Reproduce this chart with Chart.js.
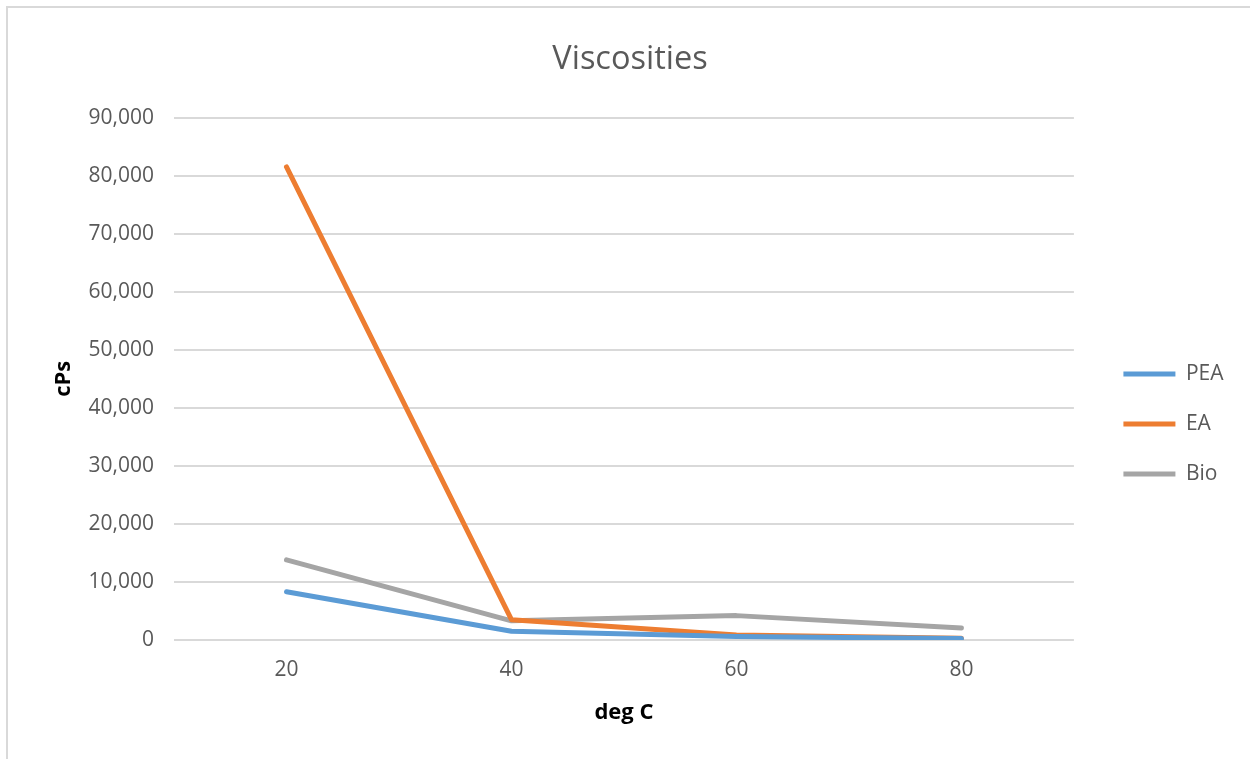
<!DOCTYPE html>
<html>
<head>
<meta charset="utf-8">
<script src="https://cdn.jsdelivr.net/npm/chart.js@4/dist/chart.umd.min.js"></script>
<style>
  html, body { margin: 0; padding: 0; background: #ffffff; overflow: hidden; }
  #frame { position: absolute; left: 6px; top: 6px; width: 1400px; height: 900px; border: 2px solid #d9d9d9; box-sizing: border-box; }
  #c { position: absolute; left: 0; top: 0; }
</style>
</head>
<body>
<div id="frame"></div>
<canvas id="c" width="1250" height="759"></canvas>
<script>
const categories = ['20', '40', '60', '80'];
const seriesNames = ['PEA', 'EA', 'Bio'];
const peaValues = [8300, 1500, 600, 250];
const eaValues = [81500, 3500, 850, 300];
const bioValues = [13800, 3300, 4200, 2050];
const seriesColors = ['#5B9BD5', '#ED7D31', '#A5A5A5'];
const yTickMin = 0, yTickMax = 90000, yTickStep = 10000;
const chartTitle = 'Viscosities';
const xTitle = 'deg C';
const yTitle = 'cPs';

const FONT = "'Open Sans', sans-serif";
const seriesValues = [peaValues, eaValues, bioValues];

const datasets = seriesNames.map((name, i) => ({
  label: name,
  data: seriesValues[i],
  borderColor: seriesColors[i],
  backgroundColor: seriesColors[i],
  borderWidth: 5,
  borderCapStyle: 'round',
  borderJoinStyle: 'round',
  pointRadius: 0,
  pointHoverRadius: 0,
  tension: 0,
  fill: false
}));

new Chart(document.getElementById('c'), {
  type: 'line',
  data: { labels: categories, datasets },
  options: {
    responsive: false,
    animation: false,
    devicePixelRatio: 1,
    layout: { padding: { top: 10, left: 26.5, right: 16.5, bottom: 10 } },
    plugins: {
      title: {
        display: true,
        text: chartTitle,
        color: '#595959',
        font: { family: FONT, size: 32.5, weight: 'normal', lineHeight: 1.2 },
        padding: { top: 30.5, bottom: 38.1 }
      },
      legend: {
        position: 'right',
        align: 'start',
        title: {
          display: true,
          text: ' ',
          font: { family: FONT, size: 12, lineHeight: 1.2 },
          padding: { top: 310, bottom: 0 }
        },
        labels: {
          usePointStyle: true,
          pointStyle: 'line',
          pointStyleWidth: 52,
          boxWidth: 52,
          padding: 29,
          color: '#595959',
          font: { family: FONT, size: 21 }
        }
      },
      tooltip: { enabled: false }
    },
    scales: {
      x: {
        offset: true,
        grid: { display: false, drawTicks: false },
        border: { display: false },
        ticks: { color: '#595959', padding: 17, font: { family: FONT, size: 21 } },
        title: {
          display: true, text: xTitle, color: '#000000',
          font: { family: FONT, size: 22, weight: 'bold', lineHeight: 1.2 },
          padding: { top: 0, bottom: 23 }
        },
        afterFit(s) { s.height = 109; }
      },
      y: {
        min: yTickMin, max: yTickMax,
        grid: { color: '#d9d9d9', lineWidth: 2, drawTicks: false },
        border: { display: false },
        ticks: {
          stepSize: yTickStep, color: '#595959', padding: 20,
          font: { family: FONT, size: 21 },
          callback: v => Number(v).toLocaleString('en-US')
        },
        title: {
          display: true, text: yTitle, color: '#000000',
          font: { family: FONT, size: 22, weight: 'bold', lineHeight: 1.2 },
          padding: { top: 24.5, bottom: 0 }
        },
        afterFit(s) { s.width = 147.5; }
      },
      spacer: {
        type: 'linear',
        position: 'right',
        display: true,
        grid: { display: false, drawTicks: false },
        border: { display: false },
        ticks: { display: false },
        afterFit(s) { s.width = 20.5; }
      }
    }
  }
});
</script>
</body>
</html>
